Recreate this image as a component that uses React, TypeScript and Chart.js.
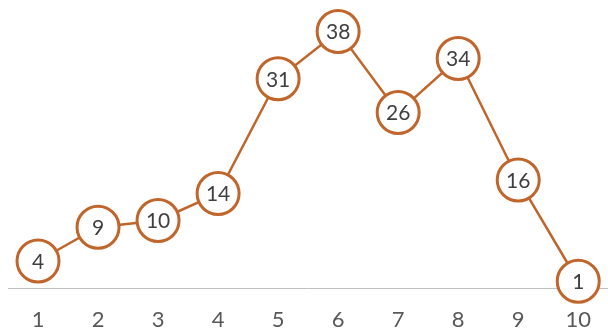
import React, { useEffect, useRef } from "react";
import { Chart, registerables } from "chart.js";

Chart.register(...registerables);

const categories = ["1", "2", "3", "4", "5", "6", "7", "8", "9", "10"];
const values = [4, 9, 10, 14, 31, 38, 26, 34, 16, 1];

const ORANGE = "#C0652B";

const labelPlugin = {
  id: "insideLabels",
  afterDatasetsDraw(chart: any) {
    const ctx = chart.ctx;
    const meta = chart.getDatasetMeta(0);
    ctx.save();
    ctx.font = "21px Lato, 'Open Sans', sans-serif";
    ctx.fillStyle = "#404040";
    ctx.textAlign = "center";
    ctx.textBaseline = "middle";
    meta.data.forEach((pt: any, i: number) => {
      ctx.fillText(String(values[i]), pt.x, pt.y + 1);
    });
    ctx.restore();
  },
};

export default function App() {
  const ref = useRef<HTMLCanvasElement>(null);
  useEffect(() => {
    if (!ref.current) return;
    const chart = new Chart(ref.current, {
      type: "line",
      data: {
        labels: categories,
        datasets: [
          {
            data: values,
            borderColor: ORANGE,
            borderWidth: 2.5,
            pointRadius: 21,
            pointBorderWidth: 3,
            pointBackgroundColor: "#FFFFFF",
            pointBorderColor: ORANGE,
            tension: 0,
            clip: false as any,
          },
        ],
      },
      options: {
        animation: false,
        responsive: false,
        maintainAspectRatio: false,
        layout: { autoPadding: false, padding: { left: 8, right: 0, top: 18, bottom: 0 } },
        plugins: { legend: { display: false }, tooltip: { enabled: false } },
        scales: {
          x: {
            offset: true,
            grid: { display: false, drawTicks: false },
            border: { display: true, color: "#BFBFBF", width: 1 },
            ticks: {
              color: "#595959",
              font: { family: "Lato, 'Open Sans', sans-serif", size: 22 },
              padding: 19,
              maxRotation: 0,
            },
            afterFit(scale: any) {
              scale.height = 48;
            },
          },
          y: {
            display: false,
            min: 0,
            max: 40,
          },
        },
      },
      plugins: [labelPlugin],
    });
    return () => chart.destroy();
  }, []);
  return (
    <div style={{ position: "fixed", left: 0, top: 0, width: 608, height: 336, background: "#fff", overflow: "hidden" }}>
      <canvas ref={ref} width={610} height={336} style={{ width: 610, height: 336, display: "block" }} />
    </div>
  );
}
